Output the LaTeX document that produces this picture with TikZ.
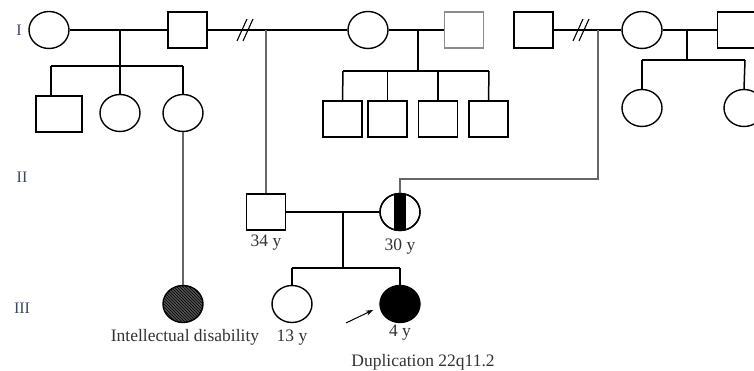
\documentclass[tikz,border=0pt]{standalone}
\usepackage{fontspec}
\setmainfont{Liberation Serif}
\usetikzlibrary{shapes.geometric,patterns,arrows.meta}
\definecolor{genc}{RGB}{60,72,95}
\tikzset{
 fem/.style={ellipse, draw, line width=1.4pt, minimum width=40pt, minimum height=37pt, inner sep=0pt},
 mal/.style={rectangle, draw, line width=1.4pt, minimum width=39pt, minimum height=36pt, inner sep=0pt},
 ln/.style={line width=1.5pt},
 lg/.style={line width=1.3pt, draw=black!60},
 lbl/.style={font=\fontsize{17.5}{20}\selectfont, text=black!80, inner sep=0pt},
 gen/.style={font=\fontsize{16}{18}\selectfont, text=genc, inner sep=0pt},
 divmark/.style={line width=1.1pt},
}
\begin{document}
\begin{tikzpicture}[x=1pt,y=-1pt]
\clip (0,0) rectangle (754,371);
\fill[white] (0,0) rectangle (754,371);
% generation labels
\node[gen] (gI) at (19,30) {I};
\node[gen] (gII) at (22,177) {II};
\node[gen] (gIII) at (22,308) {III};
% generation I
\node[fem] (I1) at (49,30) {};
\node[mal] (I2) at (187.5,30) {};
\node[fem] (I3) at (368,30) {};
\node[mal, draw=black!45] (I4) at (464,30) {};
\node[mal] (I5) at (533.5,30) {};
\node[fem] (I6) at (642,30) {};
\node[mal] (I7) at (737,30) {};
% children row of gen I
\node[mal, minimum width=46pt] (Ia) at (59,114) {};
\node[fem] (Ib) at (120,113) {};
\node[fem] (Ic) at (183,113) {};
\node[mal] (Id) at (342.5,119) {};
\node[mal] (Ie) at (387.5,119) {};
\node[mal] (If) at (438,119) {};
\node[mal] (Ig) at (488.5,119) {};
\node[fem] (Ih) at (642,108) {};
\node[fem] (Ii) at (744,108) {};
% generation II
\node[mal] (II1) at (266,212) {};
\node[fem] (II2) at (400,212) {};
\begin{scope}
\clip (II2.center) ellipse [x radius=20pt, y radius=18.5pt];
\fill[black] (394,190) rectangle (406,236);
\end{scope}
\draw[line width=1.4pt] (II2.center) ellipse [x radius=20pt, y radius=18.5pt];
% generation III
\node[fem, fill=black!68, postaction={pattern=north west lines, pattern color=black}] (III1) at (183,304) {};
\node[fem] (III2) at (292,304) {};
\node[fem, fill=black] (III3) at (400,304) {};
% labels
\node[lbl] (t34) at (266,243) {34 y};
\node[lbl] (t30) at (400,247) {30 y};
\node[lbl] (t13) at (292,338) {13 y};
\node[lbl] (t4) at (400,333) {4 y};
\node[lbl] (tid) at (185,337) {Intellectual disability};
\node[lbl] (tdup) at (423,362) {Duplication 22q11.2};
% coordinates
\coordinate (m1) at (120,30);
\coordinate (b1c) at (120,66);
\coordinate (b1l) at (51,66);
\coordinate (b1r) at (183,66);
\coordinate (d1) at (246,30);
\coordinate (m2) at (266,30);
\coordinate (m3) at (418,30);
\coordinate (b3c) at (418,71);
\coordinate (b3l) at (343,71);
\coordinate (b3r) at (489,71);
\coordinate (d2) at (582,30);
\coordinate (m5) at (598,30);
\coordinate (k5) at (598,179);
\coordinate (m6) at (687,30);
\coordinate (b6c) at (687,60);
\coordinate (b6l) at (642,60);
\coordinate (b6r) at (745,60);
\coordinate (m7) at (343,212);
\coordinate (b7c) at (343,268);
\coordinate (b7l) at (292,268);
\coordinate (b7r) at (400,268);
\coordinate (a1) at (346,323);
\coordinate (a2) at (373,310);
% gen I family 1
\draw[ln] (I1.east) -- (I2.west);
\draw[ln] (m1) -- (b1c);
\draw[ln] (b1l) -- (b1r);
\draw[ln] (b1l) -- (b1l |- Ia.north);
\draw[ln] (b1c) -- (Ib.north);
\draw[ln] (b1r) -- (Ic.north);
% divorced couple I2-I3
\draw[ln] (I2.east) -- (I3.west);
\draw[divmark] ([shift={(-9,11)}]d1) -- ([shift={(1,-11)}]d1);
\draw[divmark] ([shift={(-3,11)}]d1) -- ([shift={(7,-11)}]d1);
\draw[lg] (m2) -- (II1.north);
% I3-I4
\draw[ln] (I3.east) -- (I4.west);
\draw[ln] (m3) -- (b3c);
\draw[ln] (b3l) -- (b3r);
\draw[ln] (b3l) -- (Id.north);
\draw[ln] (Ie.north |- b3l) -- (Ie.north);
\draw[ln] (If.north |- b3l) -- (If.north);
\draw[ln] (b3r) -- (Ig.north);
% divorced couple I5-I6
\draw[ln] (I5.east) -- (I6.west);
\draw[divmark] ([shift={(-9,11)}]d2) -- ([shift={(1,-11)}]d2);
\draw[divmark] ([shift={(-3,11)}]d2) -- ([shift={(7,-11)}]d2);
\draw[lg] (m5) -- (k5) -| (II2.north);
% I6-I7
\draw[ln] (I6.east) -- (I7.west);
\draw[ln] (m6) -- (b6c);
\draw[ln] (b6l) -- (b6r);
\draw[ln] (b6l) -- (Ih.north);
\draw[ln] (b6r) -- (Ii.north);
% cousin
\draw[lg] (Ic.south) -- (III1.north);
% gen II couple
\draw[ln] (II1.east) -- (II2.west);
\draw[ln] (m7) -- (b7c);
\draw[ln] (b7l) -- (b7r);
\draw[ln] (b7l) -- (III2.north);
\draw[ln] (b7r) -- (III3.north);
% proband arrow
\draw[line width=1pt, -{Stealth[length=7pt,width=5pt]}] (a1) -- (a2);
\end{tikzpicture}
\end{document}
